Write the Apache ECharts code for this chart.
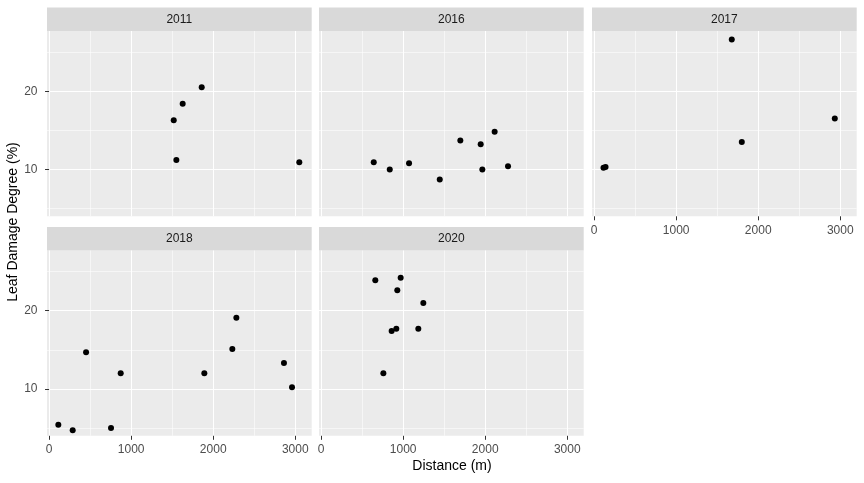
<!DOCTYPE html>
<html>
<head>
<meta charset="utf-8">
<script src="https://cdn.jsdelivr.net/npm/echarts@6/dist/echarts.min.js"></script>
<style>
  html, body { margin: 0; padding: 0; background: #fff; }
  #main { width: 864px; height: 483px; }
</style>
</head>
<body>
<div id="main"></div>
<script>
// facet labels
const years = ['2011', '2016', '2017', '2018', '2020'];

// distance (m) and leaf damage degree (%) per year
const dist2011 = [1519, 1628, 1860, 1551, 3049];
const dmg2011 = [16.3, 18.4, 20.5, 11.2, 10.9];
const dist2016 = [642, 837, 1072, 1446, 1697, 1945, 1965, 2115, 2278];
const dmg2016 = [10.9, 10.0, 10.8, 8.7, 13.7, 13.2, 10.0, 14.8, 10.4];
const dist2017 = [115, 140, 1678, 1800, 2933];
const dmg2017 = [10.2, 10.3, 26.6, 13.5, 16.5];
const dist2018 = [113, 288, 451, 755, 873, 1892, 2233, 2282, 2862, 2960];
const dmg2018 = [5.4, 4.7, 14.7, 5.0, 12.0, 12.0, 15.1, 19.1, 13.3, 10.2];
const dist2020 = [661, 970, 929, 1246, 860, 917, 1185, 759];
const dmg2020 = [23.9, 24.2, 22.6, 21.0, 17.4, 17.7, 17.7, 12.0];

// tick values
const xTicks = [0, 1000, 2000, 3000];
const xMinor = [500, 1500, 2500];
const yTicks = [10, 20];
const yMinor = [5, 15, 25];

const distList = [dist2011, dist2016, dist2017, dist2018, dist2020];
const dmgList = [dmg2011, dmg2016, dmg2017, dmg2018, dmg2020];

// panel layout (px)
const colLeft = [47, 319, 592];
const rowTop = [31, 250.5];
const panelW = 264.7, panelH = 185.3, stripH = 23.5;
const FONT = '"Liberation Sans", Arial, sans-serif';

var grids = [], xAxes = [], yAxes = [], series = [], graphics = [];
var plain = function (v) { return String(v); };

years.forEach(function (yr, i) {
  var col = i % 3, row = Math.floor(i / 3);
  var showX = (row === 1 || i === 2);
  var showY = (col === 0);
  grids.push({
    left: colLeft[col], top: rowTop[row], width: panelW, height: panelH,
    show: true, backgroundColor: '#EBEBEB', borderWidth: 0
  });
  // major x
  xAxes.push({
    gridIndex: i, type: 'value', min: -25, max: 3200,
    axisLine: { show: false },
    axisTick: { show: showX, customValues: xTicks, length: 4, lineStyle: { color: '#333333', width: 1 } },
    axisLabel: { show: showX, customValues: xTicks, formatter: plain, color: '#4D4D4D', fontSize: 12, fontFamily: FONT, margin: 8 },
    splitLine: { show: true, lineStyle: { color: '#ffffff', width: 1.1 } }
  });
  // major y
  yAxes.push({
    gridIndex: i, type: 'value', min: 4.0, max: 27.7,
    axisLine: { show: false },
    axisTick: { show: showY, customValues: yTicks, length: 4, lineStyle: { color: '#333333', width: 1 } },
    axisLabel: { show: showY, customValues: yTicks, formatter: plain, color: '#4D4D4D', fontSize: 12, fontFamily: FONT, margin: 9.5 },
    splitLine: { show: true, lineStyle: { color: '#ffffff', width: 1.1 } }
  });
  series.push({
    type: 'scatter', xAxisIndex: i, yAxisIndex: i,
    symbolSize: 6, itemStyle: { color: '#000000', opacity: 1 },
    data: distList[i].map(function (d, k) { return [d, dmgList[i][k]]; }),
    z: 5
  });
  graphics.push({
    type: 'rect', shape: { x: colLeft[col], y: rowTop[row] - stripH, width: panelW, height: stripH },
    style: { fill: '#D9D9D9' }
  });
  graphics.push({
    type: 'text', x: colLeft[col] + panelW / 2, y: rowTop[row] - stripH / 2,
    style: { text: yr, fill: '#1A1A1A', font: '12px ' + FONT, textAlign: 'center', textVerticalAlign: 'middle' }
  });
});

// minor grid lines
years.forEach(function (yr, i) {
  xAxes.push({
    gridIndex: i, type: 'value', min: -25, max: 3200, position: 'bottom',
    axisLine: { show: false }, axisLabel: { show: false },
    axisTick: { show: false, customValues: xMinor },
    splitLine: { show: true, lineStyle: { color: '#ffffff', width: 0.55 } }
  });
  yAxes.push({
    gridIndex: i, type: 'value', min: 4.0, max: 27.7, position: 'left',
    axisLine: { show: false }, axisLabel: { show: false },
    axisTick: { show: false, customValues: yMinor },
    splitLine: { show: true, lineStyle: { color: '#ffffff', width: 0.55 } }
  });
});

graphics.push({
  type: 'text', x: 452, y: 466,
  style: { text: 'Distance (m)', fill: '#000', font: '14px ' + FONT, textAlign: 'center', textVerticalAlign: 'middle' }
});
graphics.push({
  type: 'text', x: 13, y: 222, rotation: Math.PI / 2,
  style: { text: 'Leaf Damage Degree (%)', fill: '#000', font: '14px ' + FONT, textAlign: 'center', textVerticalAlign: 'middle' }
});

var chart = echarts.init(document.getElementById('main'), null, { renderer: 'canvas' });
chart.setOption({
  animation: false,
  backgroundColor: '#ffffff',
  grid: grids,
  xAxis: xAxes,
  yAxis: yAxes,
  series: series,
  graphic: graphics
});
</script>
</body>
</html>
